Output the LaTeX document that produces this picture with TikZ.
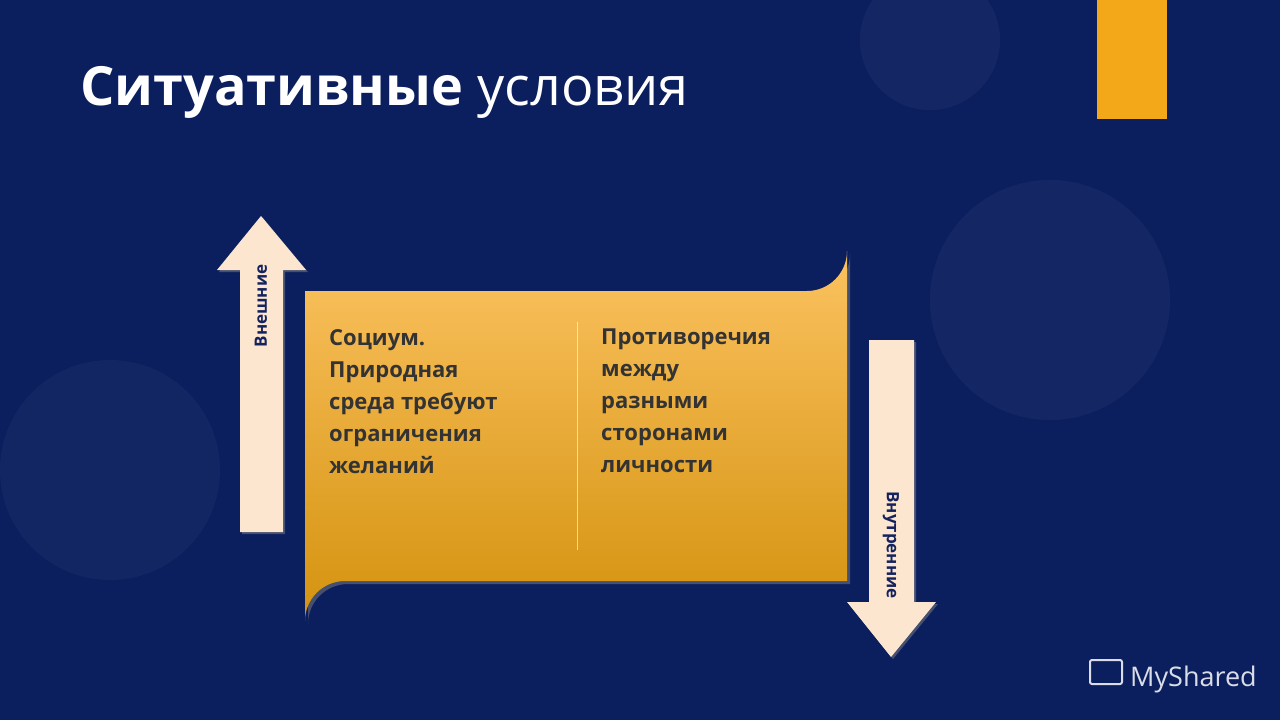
\documentclass[tikz,border=0pt]{standalone}
\usepackage{fontspec}
\setmainfont{Open Sans}
\usetikzlibrary{shadows}
\definecolor{bg}{HTML}{0B1F5E}
\definecolor{tab}{HTML}{F2A818}
\definecolor{peach}{HTML}{FCE6CF}
\definecolor{boxtop}{HTML}{FBC260}
\definecolor{boxbot}{HTML}{D4920E}
\definecolor{txt}{HTML}{333333}
\definecolor{navy}{HTML}{14235E}
\tikzset{
  arr/.style={fill=peach, draw=none, drop shadow={shadow xshift=2pt,shadow yshift=-2pt,opacity=.5}},
  body/.style={font=\fontsize{22}{32}\selectfont\bfseries, color=txt, align=left, anchor=north west, inner sep=0pt},
  lab/.style={font=\fontsize{17}{20}\selectfont\bfseries, color=navy, inner sep=0pt}
}
\begin{document}
\begin{tikzpicture}[x=1pt,y=-1pt]
\useasboundingbox (0,0) rectangle (1280,720);
\fill[bg] (0,0) rectangle (1280,720);
\fill[white,opacity=.04] (930,40) circle (70);
\fill[white,opacity=.04] (1050,300) circle (120);
\fill[white,opacity=.03] (110,470) circle (110);
\fill[tab] (1097,0) rectangle (1167,119) coordinate (tabc);
\node[anchor=base west, inner sep=0pt, color=white, font=\fontsize{54}{60}\selectfont] (title) at (80,105)
  {\textbf{Ситуативные} {\fontseries{l}\selectfont условия}};
% up arrow
\path[arr] (240,532) -- (240,270) -- (217,270) -- (261,216) -- (306,270) -- (283,270) -- (283,532) -- cycle;
\node[lab, rotate=90] (ext) at (261,306) {Внешние};
% box
\shade[top color=boxtop, bottom color=boxbot, drop shadow={shadow xshift=3pt,shadow yshift=-3pt,opacity=.5}]
  (305,291) -- (807,291) arc[start angle=90,end angle=0,radius=40] -- (847,581) -- (345,581)
  arc[start angle=270,end angle=180,radius=40] -- cycle;
\draw[white,opacity=.6,line width=0.8pt] (577,322) -- (577,550);
\node[body] (left) at (329,329) {Социум.\\Природная\\среда требуют\\ограничения\\желаний};
\node[body] (right) at (601,329) {Противоречия\\между\\разными\\сторонами\\личности};
% down arrow
\path[arr] (869,340) -- (914,340) -- (914,602) -- (936,602) -- (891,657) -- (847,602) -- (869,602) -- cycle;
\node[lab, rotate=-90] (int) at (891,545) {Внутренние};
\node[anchor=base west, inner sep=0pt, color=white, opacity=.85, font=\fontsize{27}{30}\selectfont] (wm) at (1130,686) {MyShared};
\draw[white,opacity=.85,line width=2pt,rounded corners=2pt] (1090,660) rectangle (1122,684);
\end{tikzpicture}
\end{document}
